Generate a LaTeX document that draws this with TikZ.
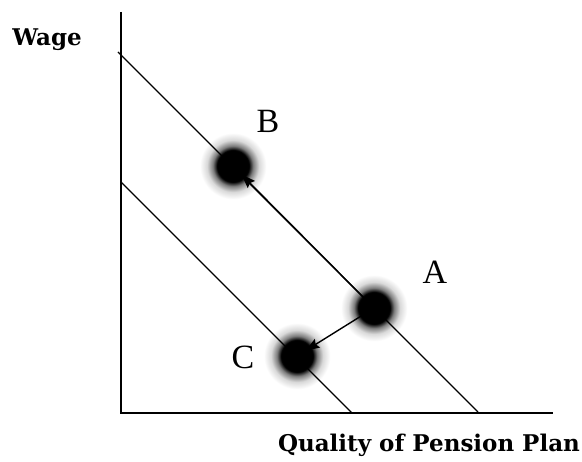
\documentclass[tikz,border=0pt]{standalone}
\usepackage{fontspec}
\setmainfont{Liberation Serif}
\newfontfamily\axisfont{DejaVu Serif}
\usetikzlibrary{fadings, arrows.meta}

\pgfdeclareradialshading{dotshade}{\pgfpointorigin}{color(0bp)=(pgftransparent!0); color(11bp)=(pgftransparent!0); color(14bp)=(pgftransparent!50); color(18bp)=(pgftransparent!85); color(23bp)=(pgftransparent!100); color(50bp)=(pgftransparent!100)}
\pgfdeclarefading{dotfade}{\pgfuseshading{dotshade}}

\begin{document}
\begin{tikzpicture}[x=1pt, y=-1pt, >={Stealth[length=14pt, width=10pt, inset=2pt]},
    axislabel/.style={font=\axisfont\bfseries\fontsize{23}{27}\selectfont},
    ptlabel/.style={font=\fontsize{34}{40}\selectfont}]
            \useasboundingbox (0,0) rectangle (582,462);

            \coordinate (O) at (121,413);
            \coordinate (Ytop) at (121,12);
            \coordinate (Xend) at (553,413);
            \coordinate (U1) at (118,52);
            \coordinate (U2) at (478,412);
            \coordinate (L1) at (121,182);
            \coordinate (L2) at (352,413);

            \coordinate (A) at (374,308);
            \coordinate (B) at (233,166);
            \coordinate (C) at (297,356);

            \draw[line width=1.6] (Ytop) -- (O) -- (Xend);
            \draw[line width=1.1] (U1) -- (U2);
            \draw[line width=1.1] (L1) -- (L2);

            \foreach \p in {A,B,C}
                \fill[black, path fading=dotfade] (\p) circle (36);

            \draw[->, line width=1.4, shorten >=12] (A) -- (B);
            \draw[->, line width=1.4, shorten >=10] (A) -- (C);

            \node[ptlabel] (labA) at (435,272) {A};
            \node[ptlabel] (labB) at (268,121) {B};
            \node[ptlabel] (labC) at (243,357) {C};

            \node[axislabel] (wage) at (47,40) {Wage};
            \node[axislabel] (quality) at (429,445) {Quality of Pension Plan};
        \end{tikzpicture}
\end{document}
